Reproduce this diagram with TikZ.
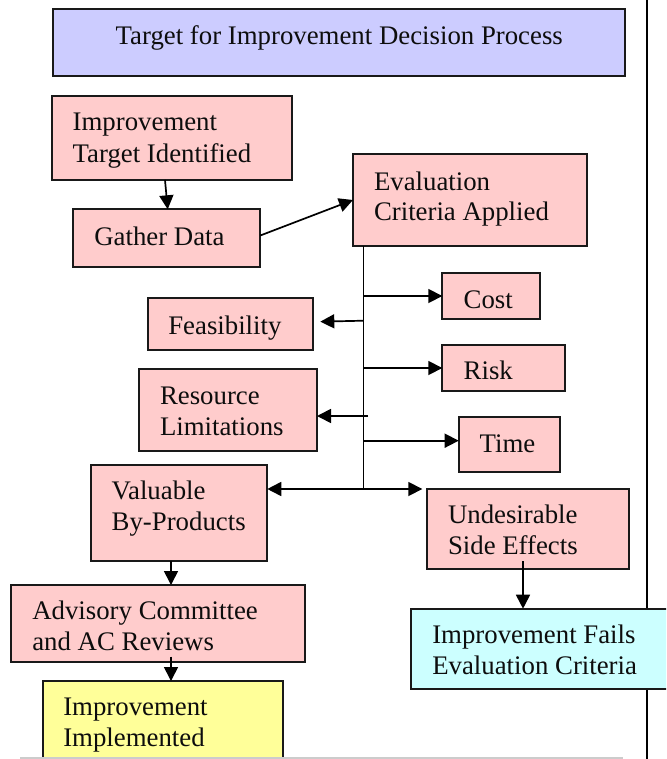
\documentclass[tikz,border=0pt]{standalone}
\usepackage{fontspec}
\setmainfont{Liberation Serif}
\usetikzlibrary{arrows.meta,calc}
\definecolor{pinkbox}{HTML}{FFCCCC}
\definecolor{lavbox}{HTML}{CCCCFF}
\definecolor{yelbox}{HTML}{FFFF99}
\definecolor{cyanbox}{HTML}{CCFFFF}
\tikzset{
  box/.style={draw=black!90, line width=2pt, inner sep=0pt, outer sep=0pt, anchor=north west},
  txt/.style={anchor=base west, inner sep=0pt, outer sep=0pt, text=black!95},
  conn/.style={line width=1.7pt, draw=black},
  arr/.style={conn, -{Triangle[length=14pt,width=14pt]}},
  arrtwo/.style={conn, {Triangle[length=14pt,width=14pt]}-{Triangle[length=14pt,width=14pt]}},
}
\begin{document}
\begin{tikzpicture}[x=1pt,y=-1pt,font=\fontsize{26.8}{31.7}\selectfont]
\path[use as bounding box, clip] (0,0) rectangle (666,759);
\fill[white] (0,0) rectangle (666,759);

% page border line at right
\coordinate (r1) at (647.3,0);
\coordinate (r2) at (647.3,759);
\draw[line width=2pt] (r1) -- (r2);

% boxes
\node[box, fill=lavbox, minimum width=571.7pt, minimum height=66.7pt] (title) at (53.3,9) {};
\node[box, fill=pinkbox, minimum width=240.3pt, minimum height=84.3pt] (iti) at (51.7,95.7) {};
\node[box, fill=pinkbox, minimum width=187pt, minimum height=58pt] (gd) at (73.3,209.3) {};
\node[box, fill=pinkbox, minimum width=234pt, minimum height=92pt] (eca) at (353,154) {};
\node[box, fill=pinkbox, minimum width=97.4pt, minimum height=46.6pt] (cost) at (442.3,272.7) {};
\node[box, fill=pinkbox, minimum width=165.6pt, minimum height=51.7pt] (feas) at (147.7,298.3) {};
\node[box, fill=pinkbox, minimum width=123pt, minimum height=46pt] (risk) at (442.3,345) {};
\node[box, fill=pinkbox, minimum width=178pt, minimum height=82pt] (rl) at (139,369) {};
\node[box, fill=pinkbox, minimum width=101pt, minimum height=55.6pt] (time) at (458.7,416.7) {};
\node[box, fill=pinkbox, minimum width=176.6pt, minimum height=96pt] (vbp) at (90.7,465) {};
\node[box, fill=pinkbox, minimum width=202.3pt, minimum height=80pt] (use) at (426.7,489) {};
\node[box, fill=pinkbox, minimum width=294.3pt, minimum height=77.3pt] (acr) at (11,585) {};
\node[box, fill=yelbox, minimum width=240pt, minimum height=100pt] (ii) at (43.3,681) {};
\node[box, fill=cyanbox, minimum width=270pt, minimum height=80.3pt] (ifec) at (410.7,608.7) {};

% texts
\node[txt] (title-t) at (115.7,45) {Target for Improvement Decision Process};
\node[txt] (iti-t1) at (72.7,130.7) {Improvement};
\node[txt] (iti-t2) at (72.7,162.3) {Target Identified};
\node[txt] (gd-t) at (94.3,245.5) {Gather Data};
\node[txt] (eca-t1) at (374,190.7) {Evaluation};
\node[txt] (eca-t2) at (374,221) {Criteria Applied};
\node[txt] (cost-t) at (463.7,308.3) {Cost};
\node[txt] (feas-t) at (168.3,334) {Feasibility};
\node[txt] (risk-t) at (463.7,379.3) {Risk};
\node[txt] (rl-t1) at (160,404) {Resource};
\node[txt] (rl-t2) at (160,435) {Limitations};
\node[txt] (time-t) at (479.7,452.7) {Time};
\node[txt] (vbp-t1) at (111.7,499.5) {Valuable};
\node[txt] (vbp-t2) at (111.7,530.7) {By-Products};
\node[txt] (use-t1) at (448,523.3) {Undesirable};
\node[txt] (use-t2) at (448,554) {Side Effects};
\node[txt] (acr-t1) at (32.3,619.3) {Advisory Committee};
\node[txt] (acr-t2) at (32.3,650.7) {and AC Reviews};
\node[txt] (ii-t1) at (63.3,715) {Improvement};
\node[txt] (ii-t2) at (63.3,746) {Implemented};
\node[txt] (ifec-t1) at (432.3,643.3) {Improvement Fails};
\node[txt] (ifec-t2) at (432.3,674.3) {Evaluation Criteria};

% connectors
\draw[arr] ([xshift=-6.85pt]iti.south) -- ([xshift=0.9pt]gd.north);
\draw[arr] ([yshift=2.8pt]gd.east) -- (eca.west);

\coordinate (tt) at (363.5,246);
\coordinate (tb) at (363.5,489);
\draw[conn] (tt) -- (tb);

\draw[arr] (tt |- cost.west) -- (cost.west);
\coordinate (fb) at (363.5,320.7);
\draw[arr] (fb) -- ($(feas.east)+(7,-2.5)$);
\draw[arr] (tt |- risk.west) -- (risk.west);
\coordinate (rb) at (368,416);
\draw[arr] (rb) -- (rl.east |- rb);
\coordinate (tmb) at (363.5,440.7);
\draw[arr] (tmb) -- (time.west |- tmb);
\coordinate (ub) at (422.3,489);
\draw[arrtwo] (vbp.east |- tb) -- (ub);

\draw[arr] ([xshift=-8pt]vbp.south) coordinate (v1) -- (v1 |- acr.north);
\draw[arr] ([xshift=12.85pt,yshift=5.6pt]acr.south) coordinate (a1) -- (a1 |- ii.north);
\draw[arr] ([xshift=-4.85pt,yshift=8pt]use.south) coordinate (u1) -- (u1 |- ifec.north);

% bottom gray rule
\coordinate (g1) at (20,757.5);
\coordinate (g2) at (623,757.5);
\draw[black!20, line width=2pt] (g1) -- (g2);
\end{tikzpicture}
\end{document}
